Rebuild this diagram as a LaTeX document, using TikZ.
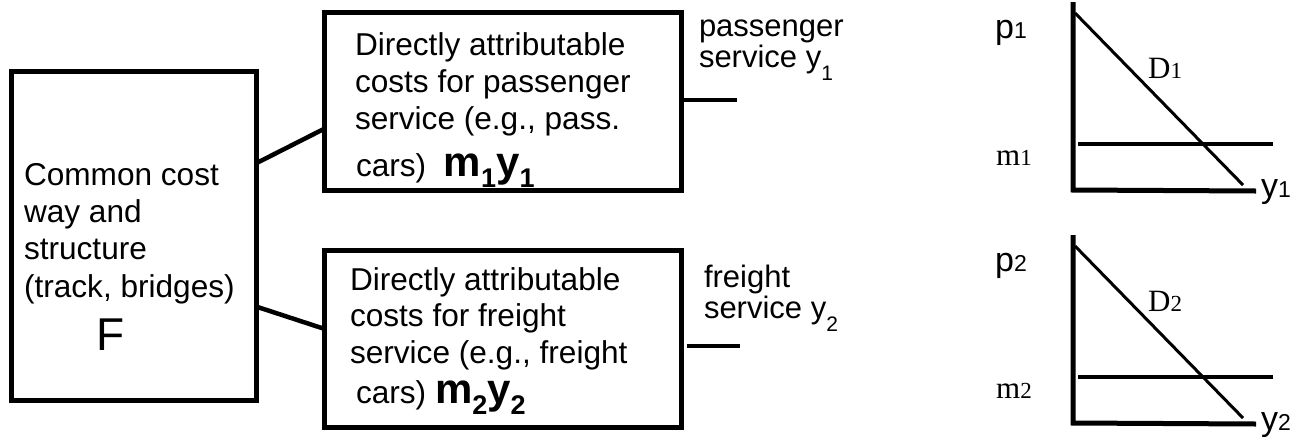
\documentclass[tikz,border=0pt]{standalone}
\usepackage{fontspec}
\setmainfont{Liberation Sans}
\newfontfamily\timesfont{Liberation Serif}
\usetikzlibrary{calc}
% lowered, smaller digit used for subscripts
\newcommand\subnum[3]{\raisebox{#1}{\fontsize{#2}{#2}\selectfont #3}}
\begin{document}
\begin{tikzpicture}[x=1pt,y=-1pt,
  box/.style={draw, line width=5pt, rectangle, inner sep=0pt, outer sep=0pt},
  wire/.style={line width=4.5pt},
  txt/.style={anchor=base west, inner sep=0pt, outer sep=0pt, font=\fontsize{31.6}{37}\selectfont},
  side/.style={txt, font=\fontsize{31}{31}\selectfont},
  axisline/.style={line width=5pt, line join=miter},
  demand/.style={line width=3pt},
  costline/.style={line width=4pt},
  glab/.style={anchor=base west, inner sep=0pt, font=\fontsize{34}{34}\selectfont},
  tlab/.style={anchor=base west, inner sep=0pt, font=\timesfont\fontsize{31}{31}\selectfont}]
\useasboundingbox (0,0) rectangle (1301,440);
\fill[white] (0,0) rectangle (1301,440);

% cost boxes
\node[box, minimum width=245.3pt, minimum height=329.4pt] (common) at (134.3,236) {};
\node[box, minimum width=357.5pt, minimum height=178pt] (pass) at (502.75,101.5) {};
\node[box, minimum width=357pt, minimum height=177pt] (freight) at (503,339) {};

% common cost text
\node[txt] (c1) at (24,185) {Common cost};
\node[txt] (c2) at (24,222) {way and};
\node[txt] (c3) at (24,259) {structure};
\node[txt] (c4) at (24,297) {(track, bridges)};
\node[txt, font=\fontsize{46}{46}\selectfont] (cF) at (96,350) {F};

% passenger box text
\node[txt] (p1) at (355,55) {Directly attributable};
\node[txt] (p2) at (355,92) {costs for passenger};
\node[txt] (p3) at (355,129) {service (e.g., pass.};
\node[txt] (p4) at (356,176) {cars)~~{\fontsize{42}{42}\selectfont\bfseries m\subnum{-11pt}{27}{1}y\subnum{-11pt}{27}{1}}};

% freight box text
\node[txt] (f1) at (350,290) {Directly attributable};
\node[txt] (f2) at (350,326) {costs for freight};
\node[txt] (f3) at (350,363) {service (e.g., freight};
\node[txt] (f4) at (356,403) {cars) {\fontsize{42}{42}\selectfont\bfseries m\subnum{-11pt}{27}{2}y\subnum{-11pt}{27}{2}}};

% output labels
\node[side] (pl1) at (699,36) {passenger};
\node[side] (pl2) at (699,67) {service y\subnum{-13pt}{21}{1}};
\node[side] (fl1) at (704,287) {freight};
\node[side] (fl2) at (704,318) {service y\subnum{-13pt}{21}{2}};

% connectors
\draw[wire] ($(common.north east)!0.278!(common.south east)$) -- ($(pass.north west)!0.654!(pass.south west)$);
\draw[wire] ($(common.north east)!0.715!(common.south east)$) -- ($(freight.north west)!0.443!(freight.south west)$);
\coordinate (passend) at (737,100);
\coordinate (freightend) at (740,346);
\draw[wire] (pass.east |- passend) -- (passend);
\draw[wire] ([xshift=5pt]freight.east |- freightend) -- (freightend);

% demand diagrams
\foreach \g/\dy in {1/0,2/233} {
  \begin{scope}[shift={(0,\dy)}]
    \coordinate (top\g) at (1073,2);
    \coordinate (origin\g) at (1073,190);
    \coordinate (xend\g) at (1256,191);
    \draw[axisline] (top\g) -- (origin\g) -- (xend\g);
    \draw[demand] (1075,13) -- (1243,185);
    \draw[costline] (1078,144) -- (1273,144);
    \node[glab] (plab\g) at (995,38) {p{\fontsize{23}{23}\selectfont\g}};
    \node[tlab] (dlab\g) at (1148,78) {D{\fontsize{23}{23}\selectfont\g}};
    \node[tlab] (mlab\g) at (996,165) {m{\fontsize{23}{23}\selectfont\g}};
    \node[glab] (ylab\g) at (1261,197) {y{\fontsize{23}{23}\selectfont\g}};
  \end{scope}
}
\end{tikzpicture}
\end{document}
